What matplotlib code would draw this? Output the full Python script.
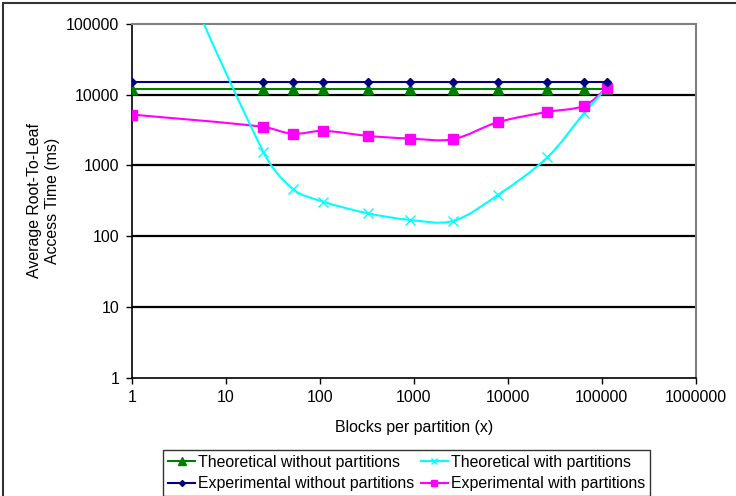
import matplotlib
matplotlib.use("Agg")
import matplotlib.pyplot as plt
import numpy as np
from matplotlib.path import Path
from matplotlib.patches import PathPatch, Rectangle
from matplotlib.lines import Line2D
from matplotlib.ticker import FixedLocator, NullLocator

plt.rcParams['font.family'] = ['Liberation Sans', 'DejaVu Sans']

# data
blocks = [1, 25, 52, 108, 325, 920, 2600, 7800, 26500, 65000, 113000]
theo_without = [12000] * 11
exp_without = [15000] * 11
theo_with = [20000000, 1570, 462, 309, 211, 170, 164, 380, 1310, 5500, 12600]
exp_with = [5250, 3520, 2800, 3090, 2620, 2400, 2350, 4080, 5730, 7000, 12400]

x_ticks = [1, 10, 100, 1000, 10000, 100000, 1000000]
x_ticklabels = ['1', '10', '100', '1000', '10000', '100000', '1000000']
y_ticks = [1, 10, 100, 1000, 10000, 100000]
y_ticklabels = ['1', '10', '100', '1000', '10000', '100000']

FS = 11.4
# pixels per decade on each axis, only used to shape the smoothed lines
PX_X = 94.0
PX_Y = 70.7


def smooth_path(xs, ys):
    # excel style smoothed line: bezier segments, tangents scaled by segment length
    pts = np.column_stack([np.log10(xs) * PX_X, np.log10(ys) * PX_Y])
    n = len(pts)
    dirs = []
    for i in range(n):
        a = pts[max(i - 1, 0)]
        b = pts[min(i + 1, n - 1)]
        d = b - a
        dirs.append(d / np.hypot(d[0], d[1]))
    verts = [pts[0]]
    codes = [Path.MOVETO]
    for i in range(n - 1):
        L = np.hypot(*(pts[i + 1] - pts[i])) / 3.0
        verts.append(pts[i] + dirs[i] * L)
        verts.append(pts[i + 1] - dirs[i + 1] * L)
        verts.append(pts[i + 1])
        codes += [Path.CURVE4] * 3
    v = np.array(verts)
    v = 10 ** (v / np.array([PX_X, PX_Y]))
    return Path(v, codes)


fig = plt.figure(figsize=(7.36, 4.96), dpi=100)
ax = fig.add_axes([131.7 / 736, 1 - 377.7 / 496, 564 / 736, 353.7 / 496])
ax.set_xscale('log')
ax.set_yscale('log')
ax.set_xlim(1, 1000000)
ax.set_ylim(1, 100000)

for v in [10, 100, 1000, 10000]:
    ax.axhline(v, color='black', lw=1.6, zorder=1)

# lines
ax.plot(blocks, exp_without, color='#000080', lw=1.5, zorder=3)
ax.plot(blocks, theo_without, color='#008000', lw=1.5, zorder=3)
ax.add_patch(PathPatch(smooth_path(blocks, exp_with), fill=False,
                       edgecolor='#FF00FF', lw=1.5, zorder=3))
ax.add_patch(PathPatch(smooth_path(blocks, theo_with), fill=False,
                       edgecolor='#00FFFF', lw=1.5, zorder=4))

# markers
ax.plot(blocks, theo_without, ls='none', marker='^', ms=7, color='#008000', zorder=5)
ax.plot(blocks, theo_with, ls='none', marker='x', ms=6.5, mew=1, color='#00FFFF', zorder=5)
ax.plot(blocks, exp_with, ls='none', marker='s', ms=7.5, color='#FF00FF', zorder=6)
ax.plot(blocks, exp_without, ls='none', marker='D', ms=4, color='#000080', zorder=7)

ax.xaxis.set_major_locator(FixedLocator(x_ticks))
ax.xaxis.set_minor_locator(NullLocator())
ax.set_xticklabels(x_ticklabels)
ax.yaxis.set_major_locator(FixedLocator(y_ticks))
ax.yaxis.set_minor_locator(NullLocator())
ax.set_yticklabels(y_ticklabels)
ax.tick_params(direction='out', length=4, width=1, labelsize=FS, pad=5, color='black')

for s in ['top', 'right']:
    ax.spines[s].set_color('#808080')
    ax.spines[s].set_linewidth(1.5)
for s in ['left', 'bottom']:
    ax.spines[s].set_color('black')
    ax.spines[s].set_linewidth(1.2)

ax.set_xlabel('Blocks per partition (x)', fontsize=FS, labelpad=11)
ax.set_ylabel('Average Root-To-Leaf\nAccess Time (ms)', fontsize=FS, labelpad=4,
              linespacing=1.25)

handles = [
    Line2D([], [], color='#008000', lw=1.5, marker='^', ms=6),
    Line2D([], [], color='#000080', lw=1.5, marker='D', ms=3),
    Line2D([], [], color='#00FFFF', lw=1.5, marker='x', ms=5),
    Line2D([], [], color='#FF00FF', lw=1.5, marker='s', ms=5),
]
labels = ['Theoretical without partitions', 'Experimental without partitions',
          'Theoretical with partitions', 'Experimental with partitions']
leg = fig.legend(handles, labels, ncol=2, loc='upper left',
                 bbox_to_anchor=(163.3 / 736, 1 - 450 / 496),
                 bbox_transform=fig.transFigure, fontsize=FS,
                 frameon=True, fancybox=False, edgecolor='black',
                 handlelength=1.7, handletextpad=0.2, columnspacing=0.4,
                 labelspacing=0.4, borderpad=0.3, borderaxespad=0)
leg.get_frame().set_linewidth(1.0)

# outer chart border
fig.patches.append(Rectangle((3 / 736, -0.1), 2, 1 - 3 / 496 + 0.1,
                             transform=fig.transFigure, fill=False,
                             edgecolor='#333333', lw=1.5))

plt.savefig("out.png", dpi=100)
